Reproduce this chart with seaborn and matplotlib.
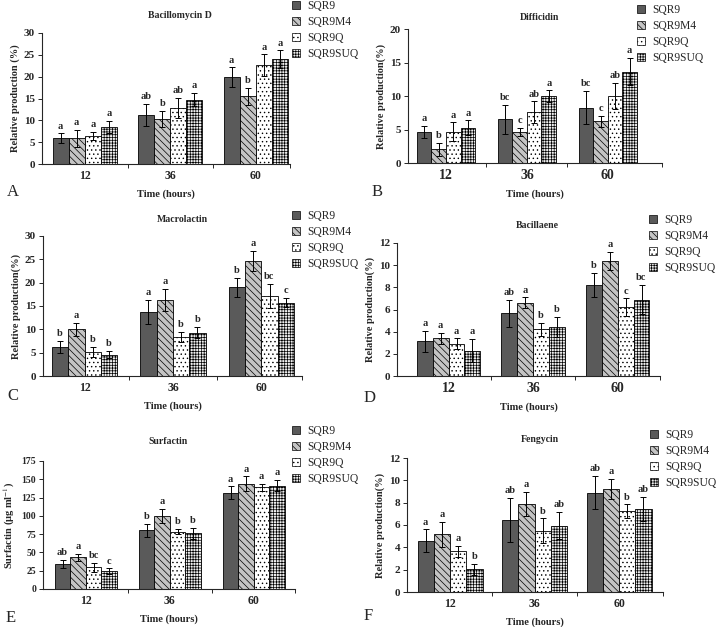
import numpy as np
import pandas as pd
import matplotlib
matplotlib.use('Agg')
import matplotlib.pyplot as plt
from matplotlib.patches import Patch
import seaborn as sns

sns.set_style('ticks')
plt.rcParams['font.family'] = ['Liberation Serif', 'DejaVu Serif']
plt.rcParams['mathtext.fontset'] = 'stix'
plt.rcParams['hatch.linewidth'] = 0.5

# %% Data (rows = time, columns = strain)
times = ['12', '36', '60']
strains = ['SQR9', 'SQR9M4', 'SQR9Q', 'SQR9SUQ']

bacillomycin_mean = [[5.9, 5.9, 6.5, 8.4], [11.2, 10.3, 12.9, 14.7], [19.9, 15.5, 22.6, 24.0]]
bacillomycin_sd = [[1.1, 2.0, 0.9, 1.4], [2.6, 1.9, 2.3, 1.5], [2.2, 2.0, 2.5, 2.0]]
bacillomycin_let = [['a', 'a', 'a', 'a'], ['ab', 'b', 'ab', 'a'], ['a', 'b', 'a', 'a']]

difficidin_mean = [[4.65, 2.05, 4.65, 5.25], [6.5, 4.6, 7.6, 10.0], [8.25, 6.2, 10.0, 13.65]]
difficidin_sd = [[0.9, 1.0, 1.4, 1.1], [2.2, 0.6, 1.6, 0.85], [2.5, 0.8, 2.0, 2.0]]
difficidin_let = [['a', 'b', 'a', 'a'], ['bc', 'c', 'ab', 'a'], ['bc', 'c', 'ab', 'a']]

macrolactin_mean = [[6.3, 10.0, 5.1, 4.6], [13.7, 16.3, 8.4, 9.3], [19.0, 24.7, 17.1, 15.7]]
macrolactin_sd = [[1.3, 1.45, 1.1, 0.75], [2.6, 2.4, 1.1, 1.2], [2.1, 2.1, 2.6, 1.0]]
macrolactin_let = [['b', 'a', 'b', 'b'], ['a', 'a', 'b', 'b'], ['b', 'a', 'bc', 'c']]

bacillaene_mean = [[3.15, 3.4, 2.9, 2.3], [5.65, 6.6, 4.2, 4.4], [8.2, 10.4, 6.2, 6.9]]
bacillaene_sd = [[0.95, 0.5, 0.5, 1.05], [1.2, 0.5, 0.6, 0.9], [1.1, 0.8, 0.8, 1.3]]
bacillaene_let = [['a', 'a', 'a', 'a'], ['ab', 'a', 'b', 'b'], ['b', 'a', 'c', 'bc']]

surfactin_mean = [[34.5, 43.2, 30.0, 24.1], [80.0, 100.0, 78.5, 76.0], [131.4, 144.0, 139.0, 141.4]]
surfactin_sd = [[5.7, 4.5, 6.1, 4.1], [9.0, 10.0, 3.4, 8.0], [9.0, 10.0, 4.8, 7.3]]
surfactin_let = [['ab', 'a', 'bc', 'c'], ['b', 'a', 'b', 'b'], ['a', 'a', 'a', 'a']]

fengycin_mean = [[4.6, 5.15, 3.65, 2.05], [6.45, 7.9, 5.5, 5.95], [8.9, 9.2, 7.25, 7.45]]
fengycin_sd = [[1.0, 1.1, 0.5, 0.5], [1.95, 1.05, 1.1, 1.2], [1.5, 0.9, 0.6, 1.05]]
fengycin_let = [['a', 'a', 'a', 'b'], ['ab', 'a', 'b', 'ab'], ['ab', 'a', 'b', 'ab']]

# %% Styles per strain
faces = {'SQR9': '#5a5a5a', 'SQR9M4': '#c4c4c4', 'SQR9Q': '#ffffff', 'SQR9SUQ': '#eeeeee'}
hatches = {'SQR9': None, 'SQR9M4': '\\\\\\\\\\', 'SQR9Q': '....', 'SQR9SUQ': '++++++'}

W, H = 720, 627
fig = plt.figure(figsize=(W / 100, H / 100), dpi=100)


def px_rect(x0, y0, x1, y1):
    return [x0 / W, 1 - y1 / H, (x1 - x0) / W, (y1 - y0) / H]


panels = [
    dict(name='Bacillomycin D', mean=bacillomycin_mean, sd=bacillomycin_sd, let=bacillomycin_let,
         rect=(42, 33, 290, 164), ylim=30, step=5, ylabel='Relative production (%)',
         xlim=(-0.5, 2.4), width=0.75, title=(180, 15), leg=(292, 0), letter=('A', 7, 192),
         tfs=8, xfs=8.5),
    dict(name='Difficidin', mean=difficidin_mean, sd=difficidin_sd, let=difficidin_let,
         rect=(408, 29, 662, 163), ylim=20, step=5, ylabel='Relative production(%)',
         xlim=(-0.47, 2.67), width=0.72, title=(540, 17), leg=(637, 4), letter=('B', 372, 192),
         tfs=8, xfs=10),
    dict(name='Macrolactin', mean=macrolactin_mean, sd=macrolactin_sd, let=macrolactin_let,
         rect=(43, 236, 302, 376), ylim=30, step=5, ylabel='Relative production(%)',
         xlim=(-0.47, 2.46), width=0.74, title=(182, 220), leg=(292, 210), letter=('C', 7, 396),
         tfs=8, xfs=8.5),
    dict(name='Bacillaene', mean=bacillaene_mean, sd=bacillaene_sd, let=bacillaene_let,
         rect=(397, 243, 660, 376), ylim=12, step=2, ylabel='Relative production(%)',
         xlim=(-0.61, 2.5), width=0.75, title=(537, 226), leg=(649, 214), letter=('D', 364, 398),
         tfs=8, xfs=10),
    dict(name='Surfactin', mean=surfactin_mean, sd=surfactin_sd, let=surfactin_let,
         rect=(43, 461, 295, 589), ylim=175, step=25, ylabel='Surfactin (μg ml$^{-1}$)',
         xlim=(-0.51, 2.49), width=0.74, title=(168, 442), leg=(292, 425), letter=('E', 6, 618),
         tfs=7, xfs=8.5),
    dict(name='Fengycin', mean=fengycin_mean, sd=fengycin_sd, let=fengycin_let,
         rect=(407, 458, 663, 592), ylim=12, step=2, ylabel='Relative production(%)',
         xlim=(-0.51, 2.52), width=0.77, title=(540, 440), leg=(650, 429), letter=('F', 364, 616),
         tfs=8, xfs=8.5),
]

for p in panels:
    ax = fig.add_axes(px_rect(*p['rect']))
    df = pd.DataFrame([(t, s, p['mean'][i][j]) for i, t in enumerate(times)
                       for j, s in enumerate(strains)], columns=['time', 'strain', 'value'])
    sns.barplot(data=df, x='time', y='value', hue='strain', order=times, hue_order=strains,
                palette=faces, errorbar=None, width=p['width'], edgecolor='black',
                linewidth=0.6, saturation=1, legend=False, ax=ax)

    bar_conts = list(ax.containers)
    for j, cont in enumerate(bar_conts):
        s = strains[j]
        for i, bar in enumerate(cont):
            if hatches[s]:
                bar.set_hatch(hatches[s])
            xc = bar.get_x() + bar.get_width() / 2
            top = bar.get_height()
            err = p['sd'][i][j]
            ax.errorbar(xc, top, yerr=err, color='black', lw=0.7, capsize=2.4, capthick=0.7)
            ax.annotate(p['let'][i][j], (xc, top + err), xytext=(0, 2), textcoords='offset points',
                        ha='center', va='bottom', fontsize=7.5, fontweight='bold')

    ax.set_xlim(*p['xlim'])
    ax.set_ylim(0, p['ylim'])
    ax.set_yticks(np.arange(0, p['ylim'] + 0.1, p['step']))
    ax.set_xticks([0.5, 1.5, p['xlim'][1]], minor=True)
    ax.tick_params(axis='x', which='major', length=0, labelsize=p['xfs'], pad=4)
    ax.tick_params(axis='x', which='minor', length=3, width=0.7, direction='out')
    ax.tick_params(axis='y', length=3, width=0.7, labelsize=p['tfs'], pad=2)
    for lab in ax.get_xticklabels() + ax.get_yticklabels():
        lab.set_fontweight('bold')
    ax.set_xlabel('Time (hours)', fontsize=7.5, fontweight='bold', labelpad=6)
    ax.set_ylabel(p['ylabel'], fontsize=7.5, fontweight='bold', labelpad=3)
    for sp in ['left', 'bottom']:
        ax.spines[sp].set_linewidth(0.8)
    sns.despine(ax=ax)

    fig.text(p['title'][0] / W, 1 - p['title'][1] / H, p['name'], ha='center', va='center',
             fontsize=7, fontweight='bold')
    fig.text(p['letter'][1] / W, 1 - p['letter'][2] / H, p['letter'][0], ha='left', va='center',
             fontsize=12)

    handles = [Patch(facecolor=faces[s], edgecolor='black', linewidth=0.5,
                     hatch=hatches[s], label=s) for s in strains]
    fig.legend(handles=handles, loc='upper left', bbox_to_anchor=(p['leg'][0] / W, 1 - p['leg'][1] / H),
               frameon=False, fontsize=8.3, handlelength=0.7, handleheight=0.7,
               handletextpad=0.6, labelspacing=0.35, borderaxespad=0, borderpad=0)

fig.savefig('out.png', dpi=100)
